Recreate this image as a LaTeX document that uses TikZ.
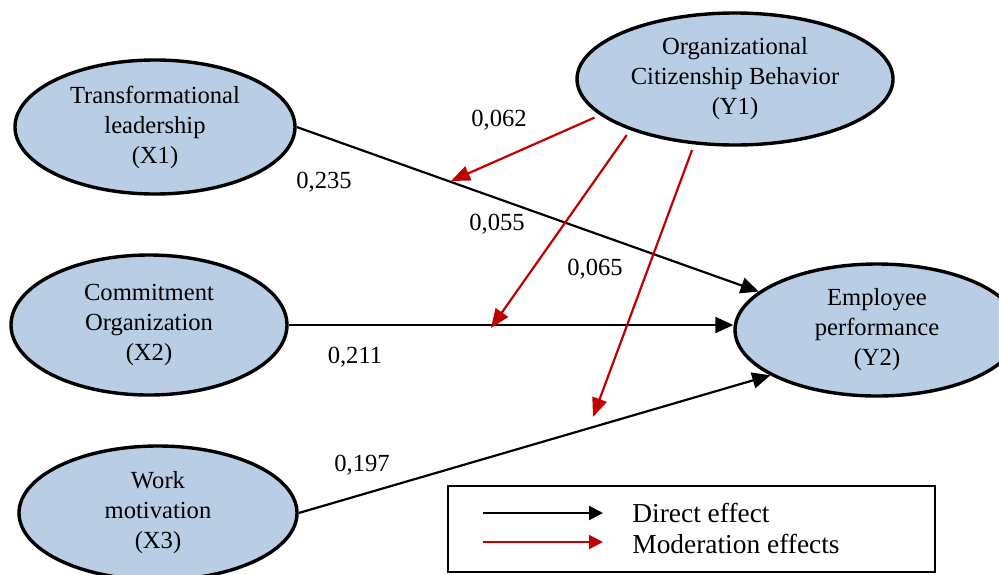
\documentclass[tikz,border=0pt]{standalone}
\usepackage{fontspec}
\setmainfont{Liberation Serif}
\usetikzlibrary{shapes.geometric,arrows.meta}
\definecolor{VarBlue}{RGB}{185,205,229}
\definecolor{ModRed}{RGB}{192,0,0}

\begin{document}
\begin{tikzpicture}[x=0.5pt, y=-0.5pt,
    var/.style={ellipse, draw, line width=1.7pt, fill=VarBlue, inner sep=0pt, align=center, font=\fontsize{12.3}{15}\selectfont},
    direct/.style={line width=1.1pt, -{Triangle[length=9pt,width=8pt]}},
    moder/.style={ModRed, line width=1.1pt, shorten <=3pt, -{Triangle[length=9.5pt,width=7.5pt]}},
    val/.style={font=\fontsize{12.3}{15}\selectfont, text depth=0pt, inner sep=0pt},
    legtext/.style={font=\fontsize{13.7}{16}\selectfont, anchor=west, text depth=0pt, inner sep=0pt}]
  \clip (0,0) rectangle (999,574);
  % variables
  \node[var, minimum width=140pt, minimum height=67pt] (x1) at (155,127) {Transformational\\leadership\\(X1)};
  \node[var, minimum width=138pt, minimum height=70pt] (x2) at (149,325) {Commitment\\Organization\\(X2)};
  \node[var, minimum width=139pt, minimum height=67pt] (x3) at (158,513) {Work\\motivation\\(X3)};
  \node[var, minimum width=158pt, minimum height=66pt] (y1) at (735,79) {Organizational\\Citizenship Behavior\\(Y1)};
  \node[var, minimum width=142pt, minimum height=66pt] (y2) at (877,330) {Employee\\performance\\(Y2)};
  % direct effects
  \draw[direct] (x1.east) -- (y2.162);
  \draw[direct] (x2.east) -- (x2.east -| y2.west);
  \draw[direct] (x3.east) -- (y2.203);
  % moderation effects
  \coordinate (m1) at (451,181);
  \coordinate (m2) at (491,328);
  \coordinate (m3) at (593,417);
  \draw[moder] (y1.195) -- (m1);
  \draw[moder] (y1.206) -- (m2);
  \draw[moder] (y1.238) -- (m3);
  % coefficients
  \node[val] (c1) at (499,118) {0,062};
  \node[val] (c2) at (324,180) {0,235};
  \node[val] (c3) at (497,222) {0,055};
  \node[val] (c4) at (595,267) {0,065};
  \node[val] (c5) at (355,355) {0,211};
  \node[val] (c6) at (362,463) {0,197};
  % legend
  \draw[line width=0.9pt] (448,486) rectangle (935,572);
  \coordinate (l1) at (483,513);
  \coordinate (l2) at (483,542);
  \draw[line width=1.1pt, -{Triangle[length=7pt,width=7pt]}] (l1) -- ++(120,0);
  \draw[ModRed, line width=1.1pt, -{Triangle[length=7pt,width=7pt]}] (l2) -- ++(120,0);
  \node[legtext] (t1) at (632,513) {Direct effect};
  \node[legtext] (t2) at (632,544) {Moderation effects};
\end{tikzpicture}
\end{document}
